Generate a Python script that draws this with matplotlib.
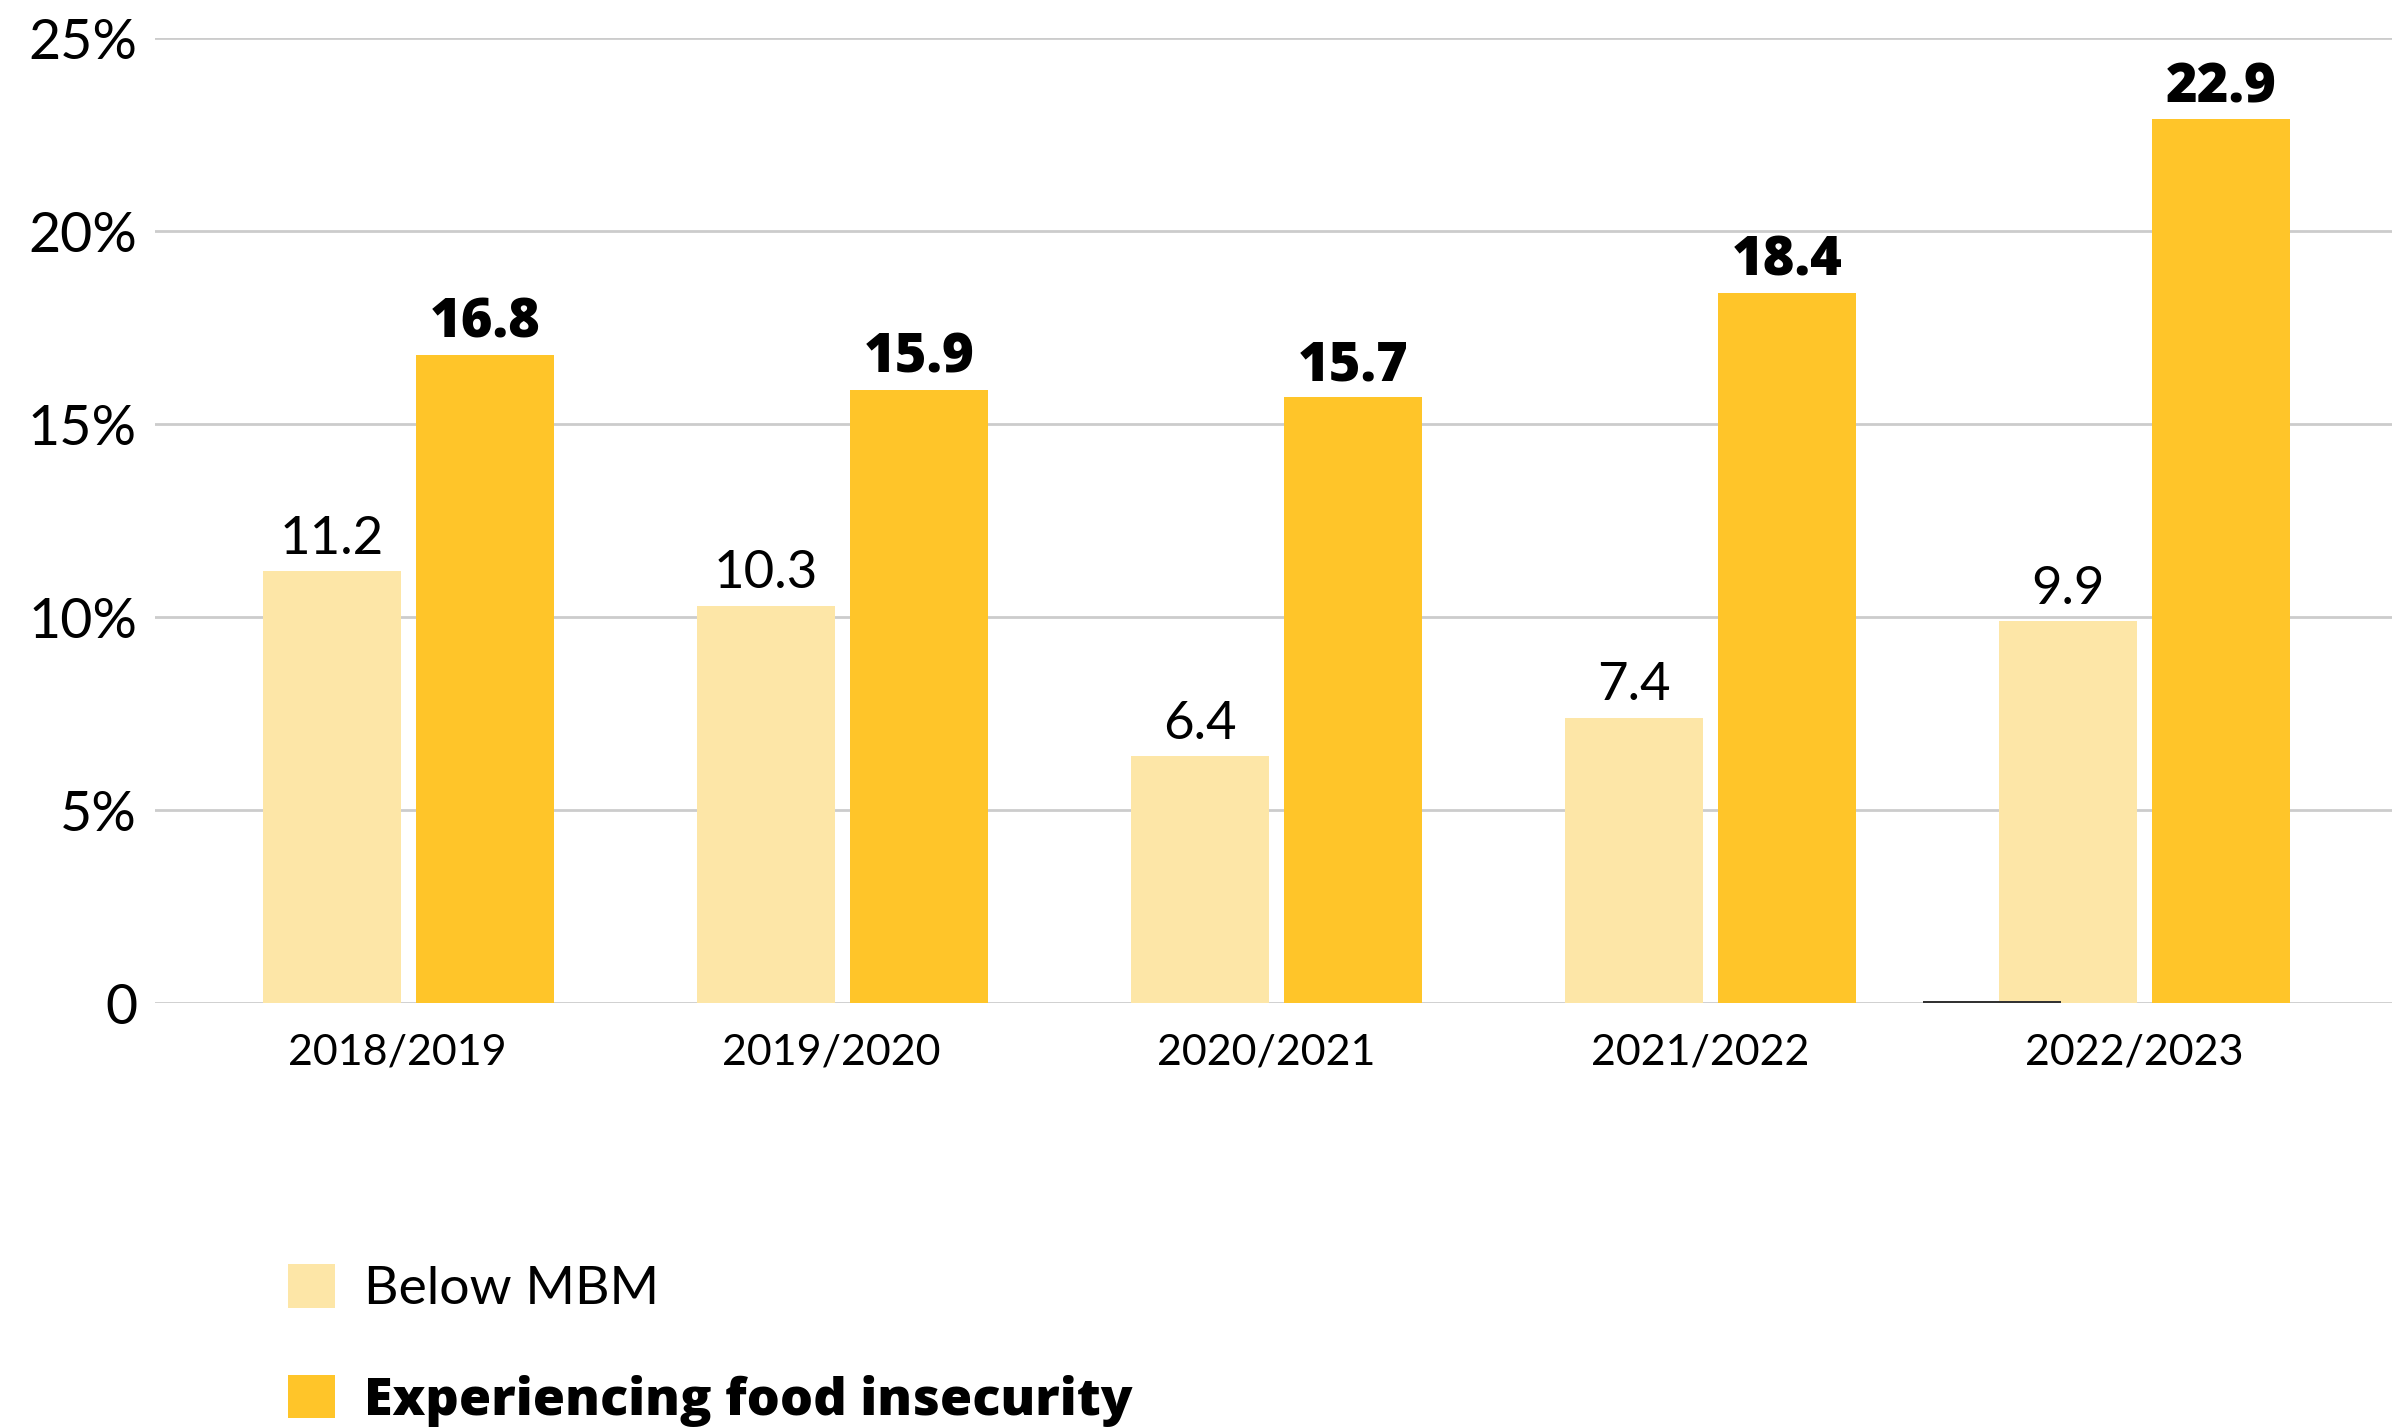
import numpy as np
import matplotlib.pyplot as plt

# data
years = ['2018/2019', '2019/2020', '2020/2021', '2021/2022', '2022/2023']
below_mbm = [11.2, 10.3, 6.4, 7.4, 9.9]
food_insecure = [16.8, 15.9, 15.7, 18.4, 22.9]
ghost = [0, 0, 0, 0, 0.05]  # thin dark line at the base of the last group

c_light = '#FDE6A7'
c_dark = '#FFC529'

plt.rcParams['font.family'] = ['Lato', 'DejaVu Sans']
bold_font = ['Open Sans', 'DejaVu Sans']

fig = plt.figure(figsize=(24.08, 14.27), dpi=100)
ax = fig.add_axes([0.0644, 0.2971, 0.929, 0.6760])

x = np.arange(len(years))
w = 0.318
off = 0.176

ax.bar(x - 2 * off, ghost, w, color='#333333', zorder=4)
b1 = ax.bar(x - off, below_mbm, w, color=c_light, label='Below MBM', zorder=3)
b2 = ax.bar(x + off, food_insecure, w, color=c_dark,
            label='Experiencing food insecurity', zorder=3)

for xi, v in zip(x - off, below_mbm):
    ax.annotate(f'{v:.1f}', (xi, v), xytext=(0, 6), textcoords='offset points',
                ha='center', va='bottom', fontsize=38, color='#000000')
for xi, v in zip(x + off, food_insecure):
    ax.annotate(f'{v:.1f}', (xi, v), xytext=(0, 3), textcoords='offset points',
                ha='center', va='bottom', fontsize=39, fontweight=800,
                family=bold_font, color='#000000')

ax.set_xlim(-0.584, 4.570)
ax.set_ylim(0, 25)
ax.set_yticks([0, 5, 10, 15, 20, 25])
ax.set_yticklabels(['0', '5%', '10%', '15%', '20%', '25%'], fontsize=40)
ax.set_xticks(x - 0.025)
ax.set_xticklabels(years, fontsize=31)
ax.tick_params(axis='both', length=0, colors='#000000')
ax.tick_params(axis='y', pad=13)
ax.tick_params(axis='x', pad=22)
ax.grid(axis='y', color='#cccccc', linewidth=2, zorder=0)
for s in ax.spines.values():
    s.set_visible(False)

leg = fig.legend(handles=[b1, b2], loc='upper left',
                 bbox_to_anchor=(0.1085, 0.133), frameon=False,
                 fontsize=38.5, handlelength=0.88, handleheight=0.88,
                 handletextpad=0.55, labelspacing=1.15, borderpad=0)
t = leg.get_texts()[1]
t.set_family(bold_font)
t.set_fontweight(800)
t.set_fontsize(37.5)

fig.savefig('out.png', dpi=100)
